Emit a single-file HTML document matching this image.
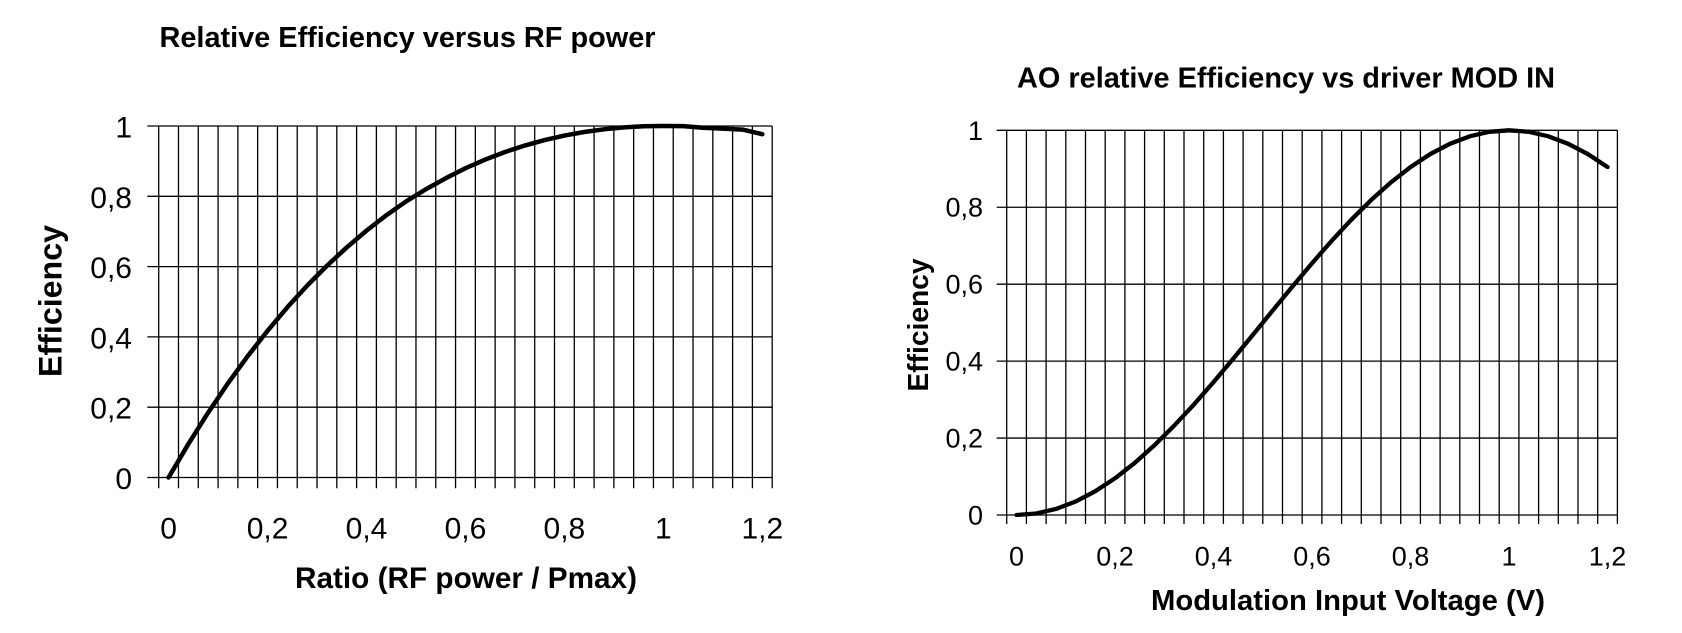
<!DOCTYPE html>
<html>
<head>
<meta charset="utf-8">
<style>
html,body{margin:0;padding:0;background:#fff;}
svg{display:block;}
text{font-family:"Liberation Sans",Arial,sans-serif;fill:#000;}
.t{font-weight:bold;}
</style>
</head>
<body>
<svg width="1682" height="633" viewBox="0 0 1682 633" xmlns="http://www.w3.org/2000/svg">
<rect width="1682" height="633" fill="#fff"/>

<!-- ================= CHART 1 ================= -->
<text class="t" x="159.5" y="47" font-size="29" textLength="496" lengthAdjust="spacingAndGlyphs">Relative Efficiency versus RF power</text>

<g stroke="#000" stroke-width="1.3" fill="none">
  <line x1="147.3" y1="477.5" x2="772.3" y2="477.5"/>
  <line x1="147.3" y1="407.2" x2="772.3" y2="407.2"/>
  <line x1="147.3" y1="336.9" x2="772.3" y2="336.9"/>
  <line x1="147.3" y1="266.6" x2="772.3" y2="266.6"/>
  <line x1="147.3" y1="196.3" x2="772.3" y2="196.3"/>
  <line x1="147.3" y1="126.0" x2="772.3" y2="126.0"/>
  <line x1="158.70" y1="126" x2="158.70" y2="488.3"/>
  <line x1="178.49" y1="126" x2="178.49" y2="488.3"/>
  <line x1="198.28" y1="126" x2="198.28" y2="488.3"/>
  <line x1="218.07" y1="126" x2="218.07" y2="488.3"/>
  <line x1="237.86" y1="126" x2="237.86" y2="488.3"/>
  <line x1="257.65" y1="126" x2="257.65" y2="488.3"/>
  <line x1="277.44" y1="126" x2="277.44" y2="488.3"/>
  <line x1="297.23" y1="126" x2="297.23" y2="488.3"/>
  <line x1="317.02" y1="126" x2="317.02" y2="488.3"/>
  <line x1="336.81" y1="126" x2="336.81" y2="488.3"/>
  <line x1="356.60" y1="126" x2="356.60" y2="488.3"/>
  <line x1="376.39" y1="126" x2="376.39" y2="488.3"/>
  <line x1="396.18" y1="126" x2="396.18" y2="488.3"/>
  <line x1="415.97" y1="126" x2="415.97" y2="488.3"/>
  <line x1="435.76" y1="126" x2="435.76" y2="488.3"/>
  <line x1="455.55" y1="126" x2="455.55" y2="488.3"/>
  <line x1="475.34" y1="126" x2="475.34" y2="488.3"/>
  <line x1="495.13" y1="126" x2="495.13" y2="488.3"/>
  <line x1="514.92" y1="126" x2="514.92" y2="488.3"/>
  <line x1="534.71" y1="126" x2="534.71" y2="488.3"/>
  <line x1="554.50" y1="126" x2="554.50" y2="488.3"/>
  <line x1="574.29" y1="126" x2="574.29" y2="488.3"/>
  <line x1="594.08" y1="126" x2="594.08" y2="488.3"/>
  <line x1="613.87" y1="126" x2="613.87" y2="488.3"/>
  <line x1="633.66" y1="126" x2="633.66" y2="488.3"/>
  <line x1="653.45" y1="126" x2="653.45" y2="488.3"/>
  <line x1="673.24" y1="126" x2="673.24" y2="488.3"/>
  <line x1="693.03" y1="126" x2="693.03" y2="488.3"/>
  <line x1="712.82" y1="126" x2="712.82" y2="488.3"/>
  <line x1="732.61" y1="126" x2="732.61" y2="488.3"/>
  <line x1="752.40" y1="126" x2="752.40" y2="488.3"/>
  <line x1="772.19" y1="126" x2="772.19" y2="488.3"/>
</g>

<polyline fill="none" stroke="#000" stroke-width="4.5" stroke-linejoin="round" stroke-linecap="round"
 points="168.6,477.5 188.39,443.94 208.18,412.58 227.97,383.29 247.76,356.06 267.55,330.79 287.34,307.28 307.13,285.64 326.92,265.73 346.71,247.44 366.5,230.62 386.29,215.23 406.08,201.41 425.87,189.26 445.66,178.28 465.45,168.25 485.24,159.56 505.03,152.0 524.82,145.53 544.61,140.06 564.4,135.58 584.19,132.01 603.98,129.31 623.77,127.44 643.56,126.2 663.35,126.0 683.14,126.1 702.93,127.8 722.72,128.6 742.51,129.6 762.3,134.2"/>

<g font-size="30" text-anchor="end">
  <text x="132" y="489">0</text>
  <text x="132" y="418.7">0,2</text>
  <text x="132" y="348.4">0,4</text>
  <text x="132" y="278.1">0,6</text>
  <text x="132" y="207.8">0,8</text>
  <text x="132" y="137.5">1</text>
</g>
<g font-size="30" text-anchor="middle">
  <text x="168.6" y="538.5">0</text>
  <text x="267.55" y="538.5">0,2</text>
  <text x="366.5" y="538.5">0,4</text>
  <text x="465.45" y="538.5">0,6</text>
  <text x="564.4" y="538.5">0,8</text>
  <text x="663.35" y="538.5">1</text>
  <text x="762.3" y="538.5">1,2</text>
</g>

<text class="t" x="295" y="588" font-size="29.5" textLength="342" lengthAdjust="spacingAndGlyphs">Ratio (RF power / Pmax)</text>
<text class="t" x="0" y="0" font-size="32" text-anchor="middle" textLength="152" lengthAdjust="spacingAndGlyphs" transform="translate(61.5,301) rotate(-90)">Efficiency</text>

<!-- ================= CHART 2 ================= -->
<text class="t" x="1017" y="87.5" font-size="29" textLength="538" lengthAdjust="spacingAndGlyphs">AO relative Efficiency vs driver MOD IN</text>

<g stroke="#000" stroke-width="1.3" fill="none">
  <line x1="996.7" y1="515" x2="1617.4" y2="515"/>
  <line x1="996.7" y1="438.06" x2="1617.4" y2="438.06"/>
  <line x1="996.7" y1="361.12" x2="1617.4" y2="361.12"/>
  <line x1="996.7" y1="284.18" x2="1617.4" y2="284.18"/>
  <line x1="996.7" y1="207.24" x2="1617.4" y2="207.24"/>
  <line x1="996.7" y1="130.3" x2="1617.4" y2="130.3"/>
  <line x1="1006.7" y1="130.3" x2="1006.7" y2="524"/>
  <line x1="1026.4" y1="130.3" x2="1026.4" y2="524"/>
  <line x1="1046.1" y1="130.3" x2="1046.1" y2="524"/>
  <line x1="1065.8" y1="130.3" x2="1065.8" y2="524"/>
  <line x1="1085.5" y1="130.3" x2="1085.5" y2="524"/>
  <line x1="1105.2" y1="130.3" x2="1105.2" y2="524"/>
  <line x1="1124.9" y1="130.3" x2="1124.9" y2="524"/>
  <line x1="1144.6" y1="130.3" x2="1144.6" y2="524"/>
  <line x1="1164.3" y1="130.3" x2="1164.3" y2="524"/>
  <line x1="1184.0" y1="130.3" x2="1184.0" y2="524"/>
  <line x1="1203.7" y1="130.3" x2="1203.7" y2="524"/>
  <line x1="1223.4" y1="130.3" x2="1223.4" y2="524"/>
  <line x1="1243.1" y1="130.3" x2="1243.1" y2="524"/>
  <line x1="1262.8" y1="130.3" x2="1262.8" y2="524"/>
  <line x1="1282.5" y1="130.3" x2="1282.5" y2="524"/>
  <line x1="1302.2" y1="130.3" x2="1302.2" y2="524"/>
  <line x1="1321.9" y1="130.3" x2="1321.9" y2="524"/>
  <line x1="1341.6" y1="130.3" x2="1341.6" y2="524"/>
  <line x1="1361.3" y1="130.3" x2="1361.3" y2="524"/>
  <line x1="1381.0" y1="130.3" x2="1381.0" y2="524"/>
  <line x1="1400.7" y1="130.3" x2="1400.7" y2="524"/>
  <line x1="1420.4" y1="130.3" x2="1420.4" y2="524"/>
  <line x1="1440.1" y1="130.3" x2="1440.1" y2="524"/>
  <line x1="1459.8" y1="130.3" x2="1459.8" y2="524"/>
  <line x1="1479.5" y1="130.3" x2="1479.5" y2="524"/>
  <line x1="1499.2" y1="130.3" x2="1499.2" y2="524"/>
  <line x1="1518.9" y1="130.3" x2="1518.9" y2="524"/>
  <line x1="1538.6" y1="130.3" x2="1538.6" y2="524"/>
  <line x1="1558.3" y1="130.3" x2="1558.3" y2="524"/>
  <line x1="1578.0" y1="130.3" x2="1578.0" y2="524"/>
  <line x1="1597.7" y1="130.3" x2="1597.7" y2="524"/>
  <line x1="1617.4" y1="130.3" x2="1617.4" y2="524"/>
</g>

<polyline fill="none" stroke="#000" stroke-width="4.3" stroke-linejoin="round" stroke-linecap="round"
 points="1016.55,515 1036.25,513.48 1055.95,508.96 1075.65,501.49 1095.35,491.21 1115.05,478.26 1134.75,462.87 1154.45,445.26 1174.15,425.71 1193.85,404.55 1213.55,382.09 1233.25,358.69 1252.95,334.73 1272.65,310.57 1292.35,286.61 1312.05,263.21 1331.75,240.75 1351.45,219.58 1371.15,200.04 1390.85,182.43 1410.55,167.03 1430.25,154.09 1449.95,143.81 1469.65,136.34 1489.35,131.82 1509.05,130.3 1528.75,131.82 1548.45,136.34 1568.15,143.81 1587.85,154.09 1607.55,167.03"/>

<g font-size="27" text-anchor="end">
  <text x="983" y="524.5">0</text>
  <text x="983" y="447.56">0,2</text>
  <text x="983" y="370.62">0,4</text>
  <text x="983" y="293.68">0,6</text>
  <text x="983" y="216.74">0,8</text>
  <text x="983" y="139.8">1</text>
</g>
<g font-size="27" text-anchor="middle">
  <text x="1016.55" y="565.5">0</text>
  <text x="1115.05" y="565.5">0,2</text>
  <text x="1213.55" y="565.5">0,4</text>
  <text x="1312.05" y="565.5">0,6</text>
  <text x="1410.55" y="565.5">0,8</text>
  <text x="1509.05" y="565.5">1</text>
  <text x="1607.55" y="565.5">1,2</text>
</g>

<text class="t" x="1151" y="610" font-size="28.5" textLength="394" lengthAdjust="spacingAndGlyphs">Modulation Input Voltage (V)</text>
<text class="t" x="0" y="0" font-size="29" text-anchor="middle" textLength="133" lengthAdjust="spacingAndGlyphs" transform="translate(928,325) rotate(-90)">Efficiency</text>
</svg>
</body>
</html>
